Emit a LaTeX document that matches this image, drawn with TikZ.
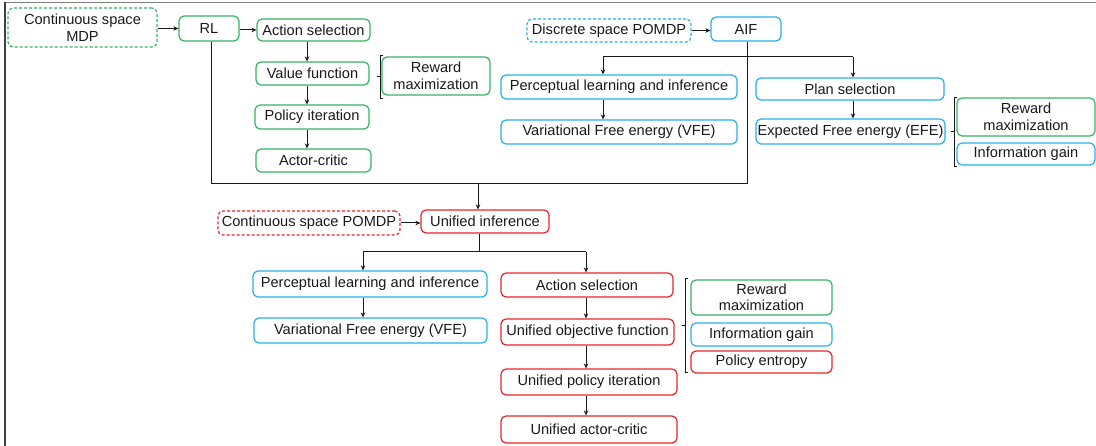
\documentclass[tikz,border=0pt]{standalone}
\usepackage{fontspec}
\setmainfont{Liberation Sans}
\usetikzlibrary{arrows.meta}
\definecolor{cgreen}{RGB}{52,180,100}
\definecolor{cblue}{RGB}{40,175,230}
\definecolor{cred}{RGB}{232,35,40}
\definecolor{ctext}{RGB}{25,25,25}
\begin{document}
\begin{tikzpicture}[x=1pt,y=-1pt,
  box/.style={rounded corners=5pt, line width=1.2pt, inner sep=0pt, align=center, text=ctext,
    font=\fontsize{14.6}{16.5}\selectfont},
  gbox/.style={box, draw=cgreen},
  bbox/.style={box, draw=cblue},
  rbox/.style={box, draw=cred},
  gdash/.style={gbox, dash pattern=on 3pt off 2pt},
  bdash/.style={bbox, dash pattern=on 3pt off 2pt},
  rdash/.style={rbox, dash pattern=on 3pt off 2pt},
  conn/.style={line width=1pt, draw=ctext},
  arr/.style={conn, -{Stealth[length=5pt,width=4.5pt]}},
  brk/.style={line width=1pt, draw=ctext}
]
\useasboundingbox (0,0) rectangle (1096,446);
% frame
\draw[line width=1.5pt, draw=gray] (4,2.5) -- (1096,2.5);
\draw[line width=1.5pt, draw=black!75] (5,2) -- (5,446);

% top left: RL
\node[gdash, minimum width=149pt, minimum height=39pt] (csmdp) at (82.5,27.5) {Continuous space\\MDP};
\node[gbox, minimum width=60pt, minimum height=25pt] (rl) at (209,28.5) {RL};
\node[gbox, minimum width=113pt, minimum height=22pt] (as1) at (313.5,30) {Action selection};
\node[gbox, minimum width=113pt, minimum height=23pt] (vf) at (312.5,73.5) {Value function};
\node[gbox, minimum width=114pt, minimum height=24pt] (pi) at (312,117) {Policy iteration};
\node[gbox, minimum width=115pt, minimum height=23pt] (ac) at (313.5,160.5) {Actor-critic};
\node[gbox, minimum width=108pt, minimum height=38pt] (rm1) at (436,76) {Reward\\maximization};

% top right: AIF
\node[bdash, minimum width=164pt, minimum height=23pt] (dsp) at (609,30.5) {Discrete space POMDP};
\node[bbox, minimum width=70pt, minimum height=24pt] (aif) at (746,29) {AIF};
\node[bbox, minimum width=236pt, minimum height=24pt] (pli1) at (619,87) {Perceptual learning and inference};
\node[bbox, minimum width=236pt, minimum height=24pt] (vfe1) at (619,132) {Variational Free energy (VFE)};
\node[bbox, minimum width=188pt, minimum height=22pt] (ps) at (850,89) {Plan selection};
\node[bbox, minimum width=189pt, minimum height=25pt] (efe) at (850.5,131.5) {Expected Free energy (EFE)};
\node[gbox, minimum width=138pt, minimum height=38pt] (rm2) at (1026,117) {Reward\\maximization};
\node[bbox, minimum width=138pt, minimum height=22pt] (ig1) at (1026,154) {Information gain};

% bottom: unified
\node[rdash, minimum width=182pt, minimum height=24pt] (csp) at (309,223) {Continuous space POMDP};
\node[rbox, minimum width=128pt, minimum height=23pt] (ui) at (485,221.5) {Unified inference};
\node[bbox, minimum width=234pt, minimum height=26pt] (pli2) at (370,284) {Perceptual learning and inference};
\node[bbox, minimum width=233pt, minimum height=25pt] (vfe2) at (370.5,330.5) {Variational Free energy (VFE)};
\node[rbox, minimum width=172pt, minimum height=24pt] (as2) at (587,285) {Action selection};
\node[rbox, minimum width=173pt, minimum height=26pt] (uof) at (587.5,332) {Unified objective function};
\node[rbox, minimum width=176pt, minimum height=26pt] (upi) at (589,382) {Unified policy iteration};
\node[rbox, minimum width=176pt, minimum height=27pt] (uac) at (589,429.5) {Unified actor-critic};
\node[gbox, minimum width=141pt, minimum height=35pt] (rm3) at (761.5,297.5) {Reward\\maximization};
\node[bbox, minimum width=141pt, minimum height=23pt] (ig2) at (761.5,334.5) {Information gain};
\node[rbox, minimum width=141pt, minimum height=22pt] (pe) at (761.5,362) {Policy entropy};

% coordinates
\coordinate (j1) at (478,184);
\coordinate (b1) at (603,57);
\coordinate (b2) at (853,57);
\coordinate (c1) at (363,252);
\coordinate (c2) at (586,252);

% RL connectors
\draw[arr] (csmdp.east |- rl.west) -- (rl.west);
\draw[arr] (rl.east |- as1.west) -- (as1.west);
\draw[arr] (307,0 |- as1.south) -- (307,0 |- vf.north);
\draw[arr] (307,0 |- vf.south) -- (307,0 |- pi.north);
\draw[arr] (307,0 |- pi.south) -- (307,0 |- ac.north);
\draw[conn] (rl.south -| 211,0) |- (747,184) -- (aif.south -| 747,0);
\draw[arr] (j1) -- (j1 |- ui.north);

% AIF connectors
\draw[arr] (dsp.east) -- (dsp.east -| aif.west);
\draw[conn] (b1) -- (b2);
\draw[arr] (b1) -- (b1 |- pli1.north);
\draw[arr] (b2) -- (b2 |- ps.north);
\draw[arr] (b1 |- pli1.south) -- (b1 |- vfe1.north);
\draw[arr] (b2 |- ps.south) -- (b2 |- efe.north);

% unified connectors
\draw[arr] (csp.east) -- (csp.east -| ui.west);
\draw[conn] (ui.south -| 479,0) -- (479,252);
\draw[conn] (c1) -- (c2);
\draw[arr] (c1) -- (c1 |- pli2.north);
\draw[arr] (c2) -- (c2 |- as2.north);
\draw[arr] (c1 |- pli2.south) -- (c1 |- vfe2.north);
\draw[arr] (c2 |- as2.south) -- (c2 |- uof.north);
\draw[arr] (c2 |- uof.south) -- (c2 |- upi.north);
\draw[arr] (c2 |- upi.south) -- (c2 |- uac.north);

% brackets
\draw[brk] (383,56) -- (380,56) -- (380,99) -- (383,99);
\draw[brk] (376.5,77) -- (380,77);
\draw[brk] (957,98) -- (954,98) -- (954,167) -- (957,167);
\draw[brk] (950.5,132) -- (954,132);
\draw[brk] (688,279) -- (685,279) -- (685,373) -- (688,373);
\draw[brk] (681.5,326) -- (685,326);
\end{tikzpicture}
\end{document}
